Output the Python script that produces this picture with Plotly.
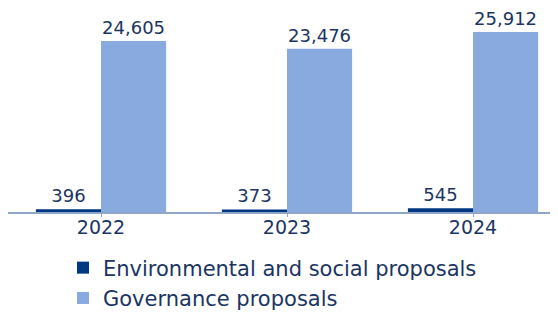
import plotly.graph_objects as go

years = ["2022", "2023", "2024"]
env_social = [396, 373, 545]
governance = [24605, 23476, 25912]
env_labels = ["396", "373", "545"]
gov_labels = ["24,605", "23,476", "25,912"]

NAVY = "#003781"
LIGHT = "#88aadf"
TEXT = "#1b3563"
FONT = "DejaVu Sans"

fig = go.Figure()
fig.add_trace(go.Bar(
    x=years, y=env_social, name="Environmental and social proposals",
    marker=dict(color=NAVY, line=dict(width=0)),
    text=env_labels, textposition="outside", cliponaxis=False,
    textfont=dict(family=FONT, size=18, color=TEXT),
))
fig.add_trace(go.Bar(
    x=years, y=governance, name="Governance proposals",
    marker=dict(color=LIGHT, line=dict(width=0)),
    text=gov_labels, textposition="outside", cliponaxis=False,
    textfont=dict(family=FONT, size=18, color=TEXT),
))

fig.update_layout(
    width=550, height=305,
    margin=dict(l=0, r=0, t=0, b=101, autoexpand=False),
    paper_bgcolor="white", plot_bgcolor="white",
    barmode="group", bargap=0.3, bargroupgap=0,
    font=dict(family=FONT, color=TEXT),
    showlegend=True,
    legend=dict(
        orientation="v", x=0.1, xanchor="left", y=-0.174, yanchor="top",
        font=dict(family=FONT, size=21, color=TEXT),
        traceorder="normal", itemwidth=30, tracegroupgap=0,
        bgcolor="rgba(0,0,0,0)",
    ),
    xaxis=dict(
        type="category", range=[-0.5, 2.457], automargin=False,
        showline=True, linecolor="#8fa6c9", linewidth=1.5,
        ticks="outside", ticklen=3, tickcolor="#8fa6c9",
        ticklabelstandoff=-6,
        tickfont=dict(family=FONT, size=19, color=TEXT),
        showgrid=False, zeroline=False,
    ),
    yaxis=dict(
        range=[0, 29350], visible=False, showgrid=False, zeroline=False,
        automargin=False,
    ),
)

fig.write_html("out.html")
